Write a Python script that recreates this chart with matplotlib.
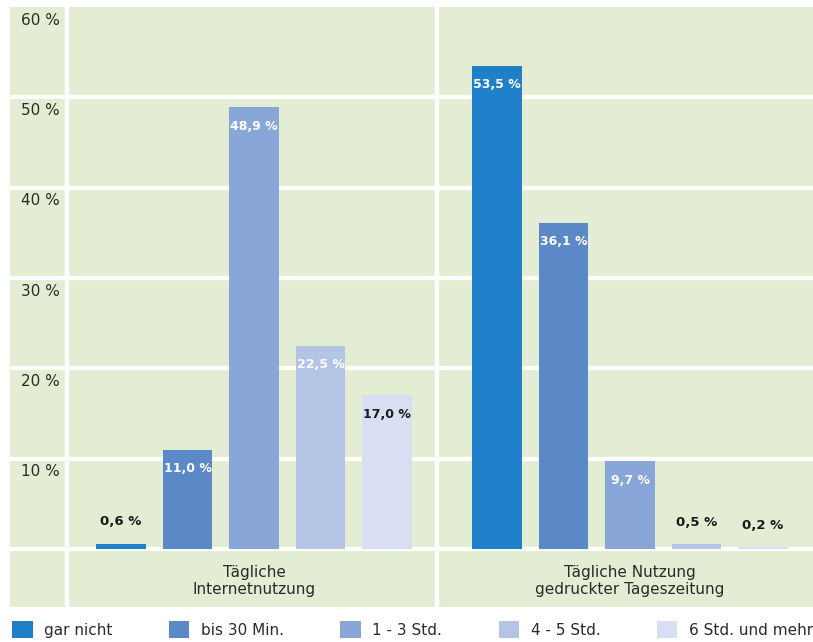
import matplotlib
matplotlib.use("Agg")
import matplotlib.pyplot as plt
from matplotlib.patches import Patch

# ---- data ----
groups = ["Tägliche\nInternetnutzung", "Tägliche Nutzung\ngedruckter Tageszeitung"]
series = ["gar nicht", "bis 30 Min.", "1 - 3 Std.", "4 - 5 Std.", "6 Std. und mehr"]
internet = [0.6, 11.0, 48.9, 22.5, 17.0]
zeitung = [53.5, 36.1, 9.7, 0.5, 0.2]
yticks = [10, 20, 30, 40, 50, 60]
ytick_labels = ["10 %", "20 %", "30 %", "40 %", "50 %", "60 %"]

colors = ["#1f7fc8", "#5b88c6", "#88a6d7", "#b3c4e4", "#d8dff2"]
bg = "#e3edd3"
txt = "#2b2b2b"
fam = ["DejaVu Sans"]

fig = plt.figure(figsize=(8.13, 6.42), dpi=100)
ax = fig.add_axes([10/813, 1 - 607/642, 803/813, 600/642])
ax.set_facecolor(bg)
for s in ax.spines.values():
    s.set_visible(False)
ax.set_xticks([]); ax.set_yticks([])

group_starts = [0.0, 5.654]
width = 0.75
ax.set_xlim(-1.67, 10.406)
ax.set_ylim(-6.42, 60)

# grid lines
for v in [0] + yticks[:-1]:
    ax.axhline(v, color="white", lw=3.0, zorder=1)
ax.axvline(-0.82, color="white", lw=3.2, zorder=1)
ax.axvline(4.75, color="white", lw=3.2, zorder=1)

# y labels
for v, lab in zip(yticks, ytick_labels):
    ax.text(-0.92, v - 1.45, lab, ha="right", va="center", fontsize=11,
            color=txt, family=fam, zorder=3)

for g, (start, vals) in enumerate(zip(group_starts, [internet, zeitung])):
    xs = [start + i for i in range(len(vals))]
    ax.bar(xs, vals, width=width, color=colors, zorder=2)
    for i, (x, v) in enumerate(zip(xs, vals)):
        lab = f"{v:.1f}".replace(".", ",") + " %"
        if v < 5:
            ax.text(x, v + 2.4, lab, ha="center", va="center", fontsize=9.5,
                    fontweight="bold", color="#1a1a1a", family=fam, zorder=3)
        else:
            c = "#1a1a1a" if i == 4 else "white"
            ax.text(x, v - 2.1, lab, ha="center", va="center", fontsize=9,
                    fontweight="bold", color=c, family=fam, zorder=3)
    ax.text(start + 2, -3.5, groups[g], ha="center", va="center", fontsize=11,
            color=txt, family=fam, linespacing=1.15, zorder=3)

handles = [Patch(facecolor=c, edgecolor="none") for c in colors]
fig.legend(handles, series, loc="lower left", ncol=5, mode="expand",
           bbox_to_anchor=(12/813, 4/642, 801/813, 20/642), frameon=False,
           handlelength=1.35, handleheight=1.35, handletextpad=0.75,
           borderaxespad=0, borderpad=0,
           prop={"family": fam, "size": 11}, labelcolor=txt)

fig.savefig("out.png", dpi=100, facecolor="white")
